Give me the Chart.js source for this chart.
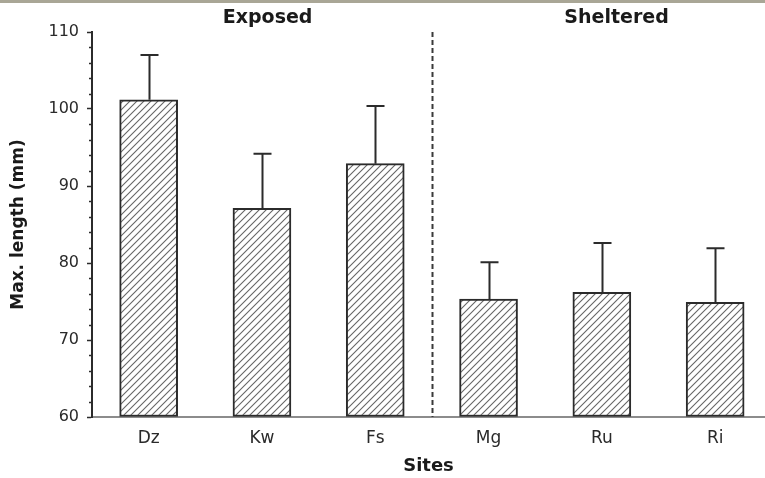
<!DOCTYPE html>
<html>
<head>
<meta charset="utf-8">
<script src="https://cdn.jsdelivr.net/npm/chart.js@4.4.1/dist/chart.umd.min.js"></script>
<style>
  html, body { margin: 0; padding: 0; background: #ffffff; }
  #wrap { width: 765px; height: 478px; position: relative; }
</style>
</head>
<body>
<div id="wrap"><canvas id="chart" width="765" height="478"></canvas></div>
<script>
// Site means and their standard deviations (mm)
const sites = ['Dz', 'Kw', 'Fs', 'Mg', 'Ru', 'Ri'];
const meanLength = [101.2, 87.1, 92.9, 75.3, 76.2, 74.9];
const sdLength = [5.8, 7.1, 7.5, 4.8, 6.4, 7.0];
const groups = ['Exposed', 'Sheltered'];
const groupCentres = [1.05, 4.13];   // x position of each group heading
const groupDivider = 2.5;            // boundary between exposed and sheltered sites
const yMin = 60, yMax = 110, yMajor = 10, yMinor = 2;

const FONT = "'DejaVu Sans', 'Liberation Sans', Arial, sans-serif";
const INK = '#2b2b2b';

// Diagonal hatch fill for the bars
function hatchPattern() {
  const p = 7;
  const c = document.createElement('canvas');
  c.width = p; c.height = p;
  const g = c.getContext('2d');
  g.fillStyle = '#ffffff';
  g.fillRect(0, 0, p, p);
  g.strokeStyle = '#666666';
  g.lineWidth = 1.1;
  g.beginPath();
  g.moveTo(-1, p + 1); g.lineTo(p + 1, -1);
  g.moveTo(-1, 1); g.lineTo(1, -1);
  g.moveTo(p - 1, p + 1); g.lineTo(p + 1, p - 1);
  g.stroke();
  return document.getElementById('chart').getContext('2d').createPattern(c, 'repeat');
}

const decorations = {
  id: 'decorations',
  beforeDraw(chart) {
    const ctx = chart.ctx;
    ctx.save();
    ctx.fillStyle = '#a9a696';
    ctx.fillRect(0, 0, chart.width, 3);
    ctx.restore();
  },
  afterDatasetsDraw(chart) {
    const ctx = chart.ctx;
    const xs = chart.scales.x, ys = chart.scales.y;
    const area = chart.chartArea;
    ctx.save();

    // error bars (upper arm only)
    ctx.strokeStyle = INK;
    ctx.lineWidth = 2;
    meanLength.forEach((m, i) => {
      const x = Math.round(xs.getPixelForValue(i)) + 0.5;
      const yb = ys.getPixelForValue(m);
      const yt = ys.getPixelForValue(m + sdLength[i]);
      ctx.beginPath();
      ctx.moveTo(x, yb);
      ctx.lineTo(x, yt);
      ctx.moveTo(x - 9, yt);
      ctx.lineTo(x + 9, yt);
      ctx.stroke();
    });

    // dashed divider between the two site groups
    const xd = Math.round(xs.getPixelForValue(groupDivider)) + 0.5;
    ctx.setLineDash([5, 3]);
    ctx.lineWidth = 2;
    ctx.strokeStyle = '#3a3a3a';
    ctx.beginPath();
    ctx.moveTo(xd, area.top);
    ctx.lineTo(xd, area.bottom);
    ctx.stroke();
    ctx.setLineDash([]);

    // group headings
    ctx.fillStyle = '#1a1a1a';
    ctx.font = 'bold 19px ' + FONT;
    ctx.textAlign = 'center';
    ctx.textBaseline = 'middle';
    groups.forEach((g, i) => {
      ctx.fillText(g, xs.getPixelForValue(groupCentres[i]), 18);
    });

    // minor ticks on the y axis
    ctx.strokeStyle = INK;
    ctx.lineWidth = 1.5;
    const x0 = ys.right;
    for (let v = yMin; v <= yMax; v += yMinor) {
      if (v % yMajor === 0) continue;
      const y = Math.round(ys.getPixelForValue(v)) + 0.5;
      ctx.beginPath();
      ctx.moveTo(x0 - 3, y);
      ctx.lineTo(x0, y);
      ctx.stroke();
    }
    ctx.restore();
  }
};

new Chart(document.getElementById('chart'), {
  type: 'bar',
  data: {
    datasets: [{
      data: sites.map((s, i) => ({ x: i, y: meanLength[i] })),
      base: yMin,
      backgroundColor: hatchPattern(),
      borderColor: INK,
      borderWidth: 2,
      borderSkipped: false,
      barThickness: 58
    }]
  },
  options: {
    responsive: false,
    animation: false,
    layout: { padding: { top: 32, right: 0, bottom: 0, left: 0 } },
    plugins: { legend: { display: false }, tooltip: { enabled: false } },
    scales: {
      x: {
        type: 'linear',
        offset: false,
        min: -0.5,
        max: 5.44,
        afterFit(scale) { scale.height = 61; },
        grid: { display: true, offset: false, drawOnChartArea: false, drawTicks: false },
        border: { display: true, color: '#8c8c8c', width: 2 },
        ticks: {
          stepSize: 1,
          includeBounds: false,
          autoSkip: false,
          maxRotation: 0,
          padding: 11,
          color: '#2a2a2a',
          font: { family: FONT, size: 17 },
          callback: v => Number.isInteger(v) ? sites[v] : ''
        },
        title: {
          display: true,
          text: 'Sites',
          color: '#1a1a1a',
          font: { family: FONT, size: 18, weight: 'bold' },
          padding: { top: 0, bottom: 1 }
        }
      },
      y: {
        min: yMin,
        max: yMax,
        afterFit(scale) { scale.width = 92; },
        grid: { drawOnChartArea: false, drawTicks: true, tickLength: 5, tickColor: INK, tickWidth: 1.5 },
        border: { display: true, color: INK, width: 2 },
        ticks: {
          stepSize: yMajor,
          padding: 8,
          color: '#2a2a2a',
          font: { family: FONT, size: 16 }
        },
        title: {
          display: true,
          text: 'Max. length (mm)',
          color: '#1a1a1a',
          font: { family: FONT, size: 17, weight: 'bold' },
          padding: { top: 8, bottom: 0 }
        }
      }
    }
  },
  plugins: [decorations]
});
</script>
</body>
</html>
